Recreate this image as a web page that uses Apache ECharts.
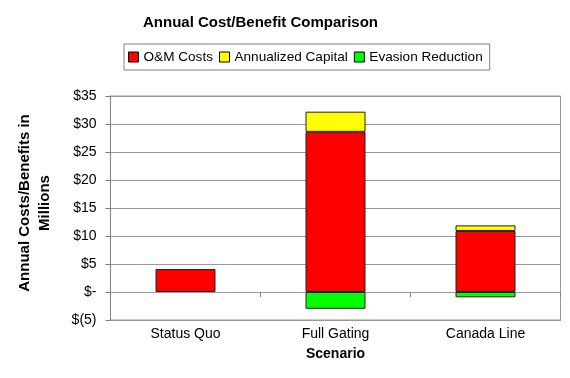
<!DOCTYPE html>
<html><head><meta charset="utf-8">
<script src="https://cdn.jsdelivr.net/npm/echarts@6/dist/echarts.min.js"></script>
<style>html,body{margin:0;padding:0;background:#fff}#c{width:570px;height:378px}</style>
</head><body><div id="c"></div>
<script>
const categories = ['Status Quo', 'Full Gating', 'Canada Line'];
const omCosts = [4.1, 28.6, 10.9];
const annualizedCapital = [null, 3.6, 1.0];
const evasionReduction = [null, -3.0, -0.95];
const seriesNames = ['O&M Costs', 'Annualized Capital', 'Evasion Reduction'];
const colors = ['#ff0000', '#ffff00', '#00ff00'];

const font = 'Arial, "Liberation Sans", sans-serif';
function fmt(v) {
  if (v === 0) return '$-';
  if (v < 0) return '$(' + Math.abs(v) + ')';
  return '$' + v;
}
const chart = echarts.init(document.getElementById('c'), null, {renderer: 'canvas'});
const dataSets = [omCosts, annualizedCapital, evasionReduction];
chart.setOption({
  animation: false,
  backgroundColor: '#fff',
  title: {
    text: 'Annual Cost/Benefit Comparison',
    left: 138, top: 10,
    textStyle: {fontFamily: font, fontSize: 15, fontWeight: 'bold', color: '#000'}
  },
  legend: {
    data: seriesNames,
    left: 124, top: 44, width: 366,
    padding: [6, 7, 6, 4],
    borderColor: '#808080', borderWidth: 1,
    itemWidth: 10, itemHeight: 10, itemGap: 6,
    icon: 'rect',
    itemStyle: {borderColor: '#000', borderWidth: 1},
    textStyle: {fontFamily: font, fontSize: 13.6, color: '#000'}
  },
  grid: {
    left: 110.5, right: 9.5, top: 96, bottom: 58,
    outerBoundsMode: 'none', containLabel: false,
    show: true, borderColor: '#999', borderWidth: 1, backgroundColor: '#fff'
  },
  xAxis: [{
    type: 'category', data: categories, position: 'bottom',
    axisLine: {onZero: false, lineStyle: {color: '#999'}},
    axisTick: {show: false},
    axisLabel: {fontFamily: font, fontSize: 14, color: '#000', margin: 7},
    name: 'Scenario', nameLocation: 'middle', nameGap: 27,
    nameTextStyle: {fontFamily: font, fontSize: 14, fontWeight: 'bold', color: '#000'}
  }, {
    type: 'category', data: categories, position: 'bottom',
    axisLine: {onZero: true, lineStyle: {color: '#999'}},
    axisTick: {show: true, inside: false, length: 5, lineStyle: {color: '#808080'}},
    axisLabel: {show: false}
  }],
  yAxis: {
    type: 'value', min: -5, max: 35, interval: 5,
    axisLine: {show: true, lineStyle: {color: '#808080'}},
    axisTick: {show: true, length: 5, lineStyle: {color: '#808080'}},
    splitLine: {lineStyle: {color: '#999', width: 1}},
    axisLabel: {fontFamily: font, fontSize: 14, color: '#000', margin: 14, formatter: fmt},
    name: 'Annual Costs/Benefits in\nMillions', nameLocation: 'middle', nameGap: 56, nameRotate: 90,
    nameTextStyle: {fontFamily: font, fontSize: 15, fontWeight: 'bold', color: '#000', lineHeight: 20, padding: [0, 0, 0, 10]}
  },
  series: seriesNames.map((n, i) => ({
    name: n, type: 'bar', stack: 'total', xAxisIndex: 0,
    data: dataSets[i], barWidth: '40%',
    itemStyle: {color: colors[i], borderColor: '#222', borderWidth: 1}
  }))
});
</script></body></html>
